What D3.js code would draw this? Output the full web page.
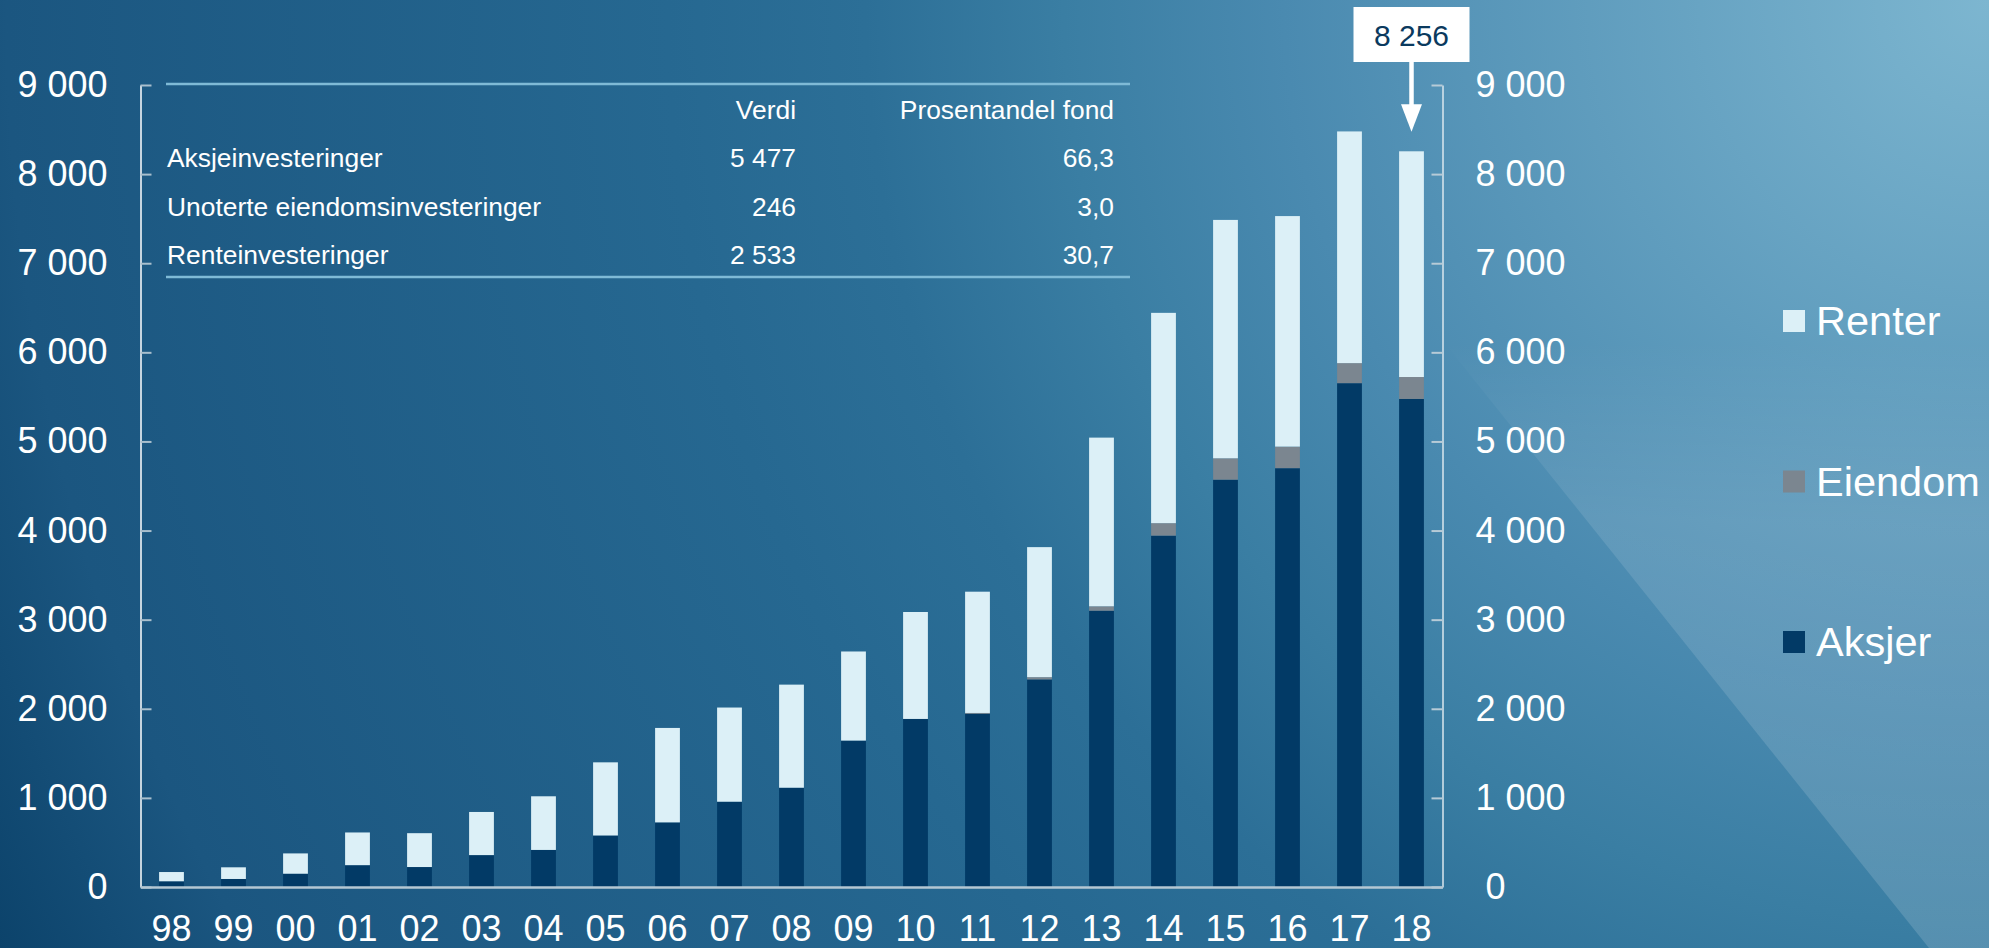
<!DOCTYPE html>
<html>
<head>
<meta charset="utf-8">
<script src="https://cdn.jsdelivr.net/npm/d3@7"></script>
<style>
  html, body { margin: 0; padding: 0; background: #0c436b; }
  svg { display: block; }
  text { font-family: "Liberation Sans", Arial, Helvetica, sans-serif; }
</style>
</head>
<body>
<svg id="chart" width="1989" height="948"></svg>
<script>
// ---------- data ----------
const years = ["98","99","00","01","02","03","04","05","06","07","08","09","10","11","12","13","14","15","16","17","18"];
const aksjer  = [64, 90, 149, 245, 224, 358, 416, 578, 725, 957, 1114, 1643, 1886, 1943, 2329, 3100, 3943, 4571, 4700, 5654, 5477];
const eiendom = [0, 0, 0, 0, 0, 0, 0, 0, 0, 0, 0, 0, 0, 10, 26, 50, 140, 240, 242, 225, 246];
const renter  = [104, 131, 228, 367, 380, 484, 602, 821, 1060, 1057, 1157, 1000, 1200, 1361, 1459, 1893, 2360, 2675, 2587, 2600, 2533];
const seriesNames = ["Aksjer", "Eiendom", "Renter"];
const seriesColors = ["#023a66", "#7b8690", "#dcf0f7"];
const yTicks = [0, 1000, 2000, 3000, 4000, 5000, 6000, 7000, 8000, 9000];
const tableHeader = ["Verdi", "Prosentandel fond"];
const tableLabels = ["Aksjeinvesteringer", "Unoterte eiendomsinvesteringer", "Renteinvesteringer"];
const tableValues = ["5 477", "246", "2 533"];
const tablePercents = ["66,3", "3,0", "30,7"];
const calloutYear = "18";
const calloutLabel = "8 256";

// ---------- setup ----------
const W = 1989, H = 948;
const svg = d3.select("#chart");
const defs = svg.append("defs");

const rg = defs.append("radialGradient").attr("id", "bg")
  .attr("gradientUnits", "userSpaceOnUse")
  .attr("cx", 1989).attr("cy", 0).attr("r", 2203);
[[0, "#7db6d0"], [0.32, "#4a8ab0"], [0.42, "#3a7ea3"], [0.51, "#2c6f97"],
 [0.6, "#266891"], [0.9, "#1b5680"], [1, "#0c436b"]].forEach(([o, c]) =>
  rg.append("stop").attr("offset", o).attr("stop-color", c));

const fg = defs.append("linearGradient").attr("id", "facet")
  .attr("gradientUnits", "userSpaceOnUse")
  .attr("x1", 0).attr("y1", 0).attr("x2", 0).attr("y2", H);
[[0, 0], [0.36, 0], [0.55, 0.11], [1, 0.15]].forEach(([o, a]) =>
  fg.append("stop").attr("offset", o).attr("stop-color", "#ffffff").attr("stop-opacity", a));

svg.append("rect").attr("width", W).attr("height", H).attr("fill", "url(#bg)");
svg.append("polygon")
  .attr("points", [[1170, 0], [W, 0], [W, H], [1929, H]].map(p => p.join(",")).join(" "))
  .attr("fill", "url(#facet)");

// ---------- scales ----------
const x = d3.scaleBand().domain(years).range([140.5, 1442.5]).paddingInner(0.6).paddingOuter(0.3);
const y = d3.scaleLinear().domain([0, 9000]).range([887, 85]);

const loc = d3.formatLocale({ thousands: " ", grouping: [3], decimal: ",", currency: ["", ""] });
const fmt = loc.format(",d");

// ---------- table ----------
const table = svg.append("g");
table.selectAll("line.rule").data([84, 277]).join("line")
  .attr("x1", 166).attr("x2", 1130).attr("y1", d => d).attr("y2", d => d)
  .attr("stroke", "#7fbad6").attr("stroke-width", 2.6);
const tfont = 26.4;
table.append("text").attr("x", 796).attr("y", 119).attr("text-anchor", "end")
  .attr("fill", "#fff").attr("font-size", tfont).text(tableHeader[0]);
table.append("text").attr("x", 1114).attr("y", 119).attr("text-anchor", "end")
  .attr("fill", "#fff").attr("font-size", tfont).text(tableHeader[1]);
tableLabels.forEach((lab, i) => {
  const by = 167 + i * 48.6;
  table.append("text").attr("x", 167).attr("y", by).attr("fill", "#fff").attr("font-size", tfont).text(lab);
  table.append("text").attr("x", 796).attr("y", by).attr("text-anchor", "end").attr("fill", "#fff").attr("font-size", tfont).text(tableValues[i]);
  table.append("text").attr("x", 1114).attr("y", by).attr("text-anchor", "end").attr("fill", "#fff").attr("font-size", tfont).text(tablePercents[i]);
});

// ---------- bars ----------
const rows = years.map((yr, i) => ({ year: yr, Aksjer: aksjer[i], Eiendom: eiendom[i], Renter: renter[i] }));
const stacked = d3.stack().keys(seriesNames)(rows);
svg.append("g").selectAll("g").data(stacked).join("g")
  .attr("fill", (d, i) => seriesColors[i])
  .selectAll("rect").data(d => d).join("rect")
  .attr("x", d => x(d.data.year))
  .attr("width", x.bandwidth())
  .attr("y", d => y(d[1]))
  .attr("height", d => Math.max(0, y(d[0]) - y(d[1])));

// ---------- axes ----------
const axFont = 36;
const leftAx = svg.append("g").attr("transform", "translate(140.5,0)")
  .call(d3.axisLeft(y).tickValues(yTicks).tickFormat(fmt).tickSize(-11).tickSizeOuter(0).tickPadding(33));
leftAx.select(".domain").attr("stroke", "#ffffff").attr("stroke-width", 1.5);
leftAx.selectAll(".tick line").attr("stroke", "#a9bfcd").attr("stroke-width", 2);
leftAx.selectAll(".tick text").attr("fill", "#fff").attr("font-size", axFont)
  .attr("font-family", "'Liberation Sans', Arial, sans-serif");

const rightAx = svg.append("g").attr("transform", "translate(1442.5,0)")
  .call(d3.axisRight(y).tickValues(yTicks).tickFormat(v => v === 0 ? "\u00a00" : fmt(v)).tickSize(-11).tickSizeOuter(0).tickPadding(33));
rightAx.select(".domain").attr("stroke", "#dbe7ee").attr("stroke-width", 1.5);
rightAx.selectAll(".tick line").attr("stroke", "#b7cbd7").attr("stroke-width", 2);
rightAx.selectAll(".tick text").attr("fill", "#fff").attr("font-size", axFont)
  .attr("font-family", "'Liberation Sans', Arial, sans-serif");

const bottomAx = svg.append("g").attr("transform", "translate(0,887)")
  .call(d3.axisBottom(x).tickSize(0).tickSizeOuter(0).tickPadding(28));
bottomAx.select(".domain").attr("stroke", "#b4c7d3").attr("stroke-width", 2.5);
bottomAx.selectAll(".tick text").attr("fill", "#fff").attr("font-size", axFont)
  .attr("font-family", "'Liberation Sans', Arial, sans-serif");

// ---------- callout ----------
const cx = x(calloutYear) + x.bandwidth() / 2;
const ci = years.indexOf(calloutYear);
const ctop = y(aksjer[ci] + eiendom[ci] + renter[ci]);
const call = svg.append("g");
call.append("rect").attr("x", cx - 58).attr("y", 7).attr("width", 116).attr("height", 55).attr("fill", "#fff");
call.append("text").attr("x", cx).attr("y", 46).attr("text-anchor", "middle")
  .attr("fill", "#0b3a5e").attr("font-size", 30).text(calloutLabel);
call.append("line").attr("x1", cx).attr("x2", cx).attr("y1", 62).attr("y2", ctop - 45)
  .attr("stroke", "#fff").attr("stroke-width", 4.5);
call.append("polygon")
  .attr("points", [[cx - 10.5, ctop - 47], [cx + 10.5, ctop - 47], [cx, ctop - 19.5]].map(p => p.join(",")).join(" "))
  .attr("fill", "#fff");

// ---------- legend ----------
const legend = svg.append("g");
const legendOrder = ["Renter", "Eiendom", "Aksjer"];
legendOrder.forEach((name, i) => {
  const top = 310 + i * 160.5;
  legend.append("rect").attr("x", 1783).attr("y", top).attr("width", 22).attr("height", 22)
    .attr("fill", seriesColors[seriesNames.indexOf(name)]);
  legend.append("text").attr("x", 1816).attr("y", top + 25).attr("fill", "#fff")
    .attr("font-size", 41.5).text(name);
});
</script>
</body>
</html>
